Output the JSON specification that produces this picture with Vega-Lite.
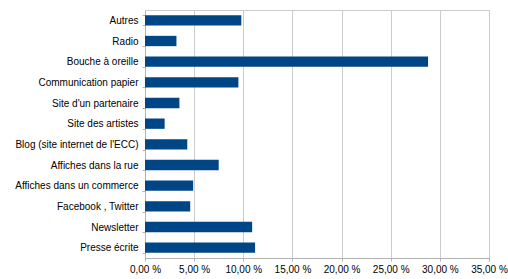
{
  "$schema": "https://vega.github.io/schema/vega-lite/v6.json",
  "autosize": {"type": "none"},
  "width": 344,
  "height": 248,
  "padding": {"left": 145, "top": 10, "right": 19, "bottom": 21},
  "background": "white",
  "data": {
    "values": [
      {"source": "Autres", "pct": 9.8},
      {"source": "Radio", "pct": 3.2},
      {"source": "Bouche à oreille", "pct": 28.8},
      {"source": "Communication papier", "pct": 9.5},
      {"source": "Site d'un partenaire", "pct": 3.5},
      {"source": "Site des artistes", "pct": 2.0},
      {"source": "Blog (site internet de l'ECC)", "pct": 4.3},
      {"source": "Affiches dans la rue", "pct": 7.5},
      {"source": "Affiches dans un commerce", "pct": 4.9},
      {"source": "Facebook , Twitter", "pct": 4.6},
      {"source": "Newsletter", "pct": 10.9},
      {"source": "Presse écrite", "pct": 11.2}
    ]
  },
  "mark": {"type": "bar", "color": "#004586"},
  "encoding": {
    "y": {
      "field": "source",
      "type": "nominal",
      "sort": null,
      "scale": {"paddingInner": 0.5, "paddingOuter": 0.25},
      "axis": {
        "title": null,
        "labelFont": "Liberation Sans",
        "labelFontSize": 10,
        "labelColor": "#000000",
        "labelPadding": 4,
        "labelLimit": 200,
        "domainColor": "#b3b3b3",
        "tickColor": "#b3b3b3",
        "tickSize": 3,
        "tickBand": "extent",
        "grid": false
      }
    },
    "x": {
      "field": "pct",
      "type": "quantitative",
      "scale": {"domain": [0, 35], "nice": false},
      "axis": {
        "title": null,
        "values": [0, 5, 10, 15, 20, 25, 30, 35],
        "labelExpr": "replace(format(datum.value, '.2f'), '.', ',') + ' %'",
        "labelFont": "Liberation Sans",
        "labelFontSize": 10,
        "labelColor": "#000000",
        "labelPadding": 3,
        "labelOverlap": false,
        "labelFlush": false,
        "domainColor": "#b3b3b3",
        "tickColor": "#b3b3b3",
        "tickSize": 3,
        "grid": true,
        "gridColor": "#cccccc",
        "gridWidth": 1
      }
    }
  },
  "config": {
    "view": {"stroke": "#cccccc", "strokeWidth": 1}
  }
}
